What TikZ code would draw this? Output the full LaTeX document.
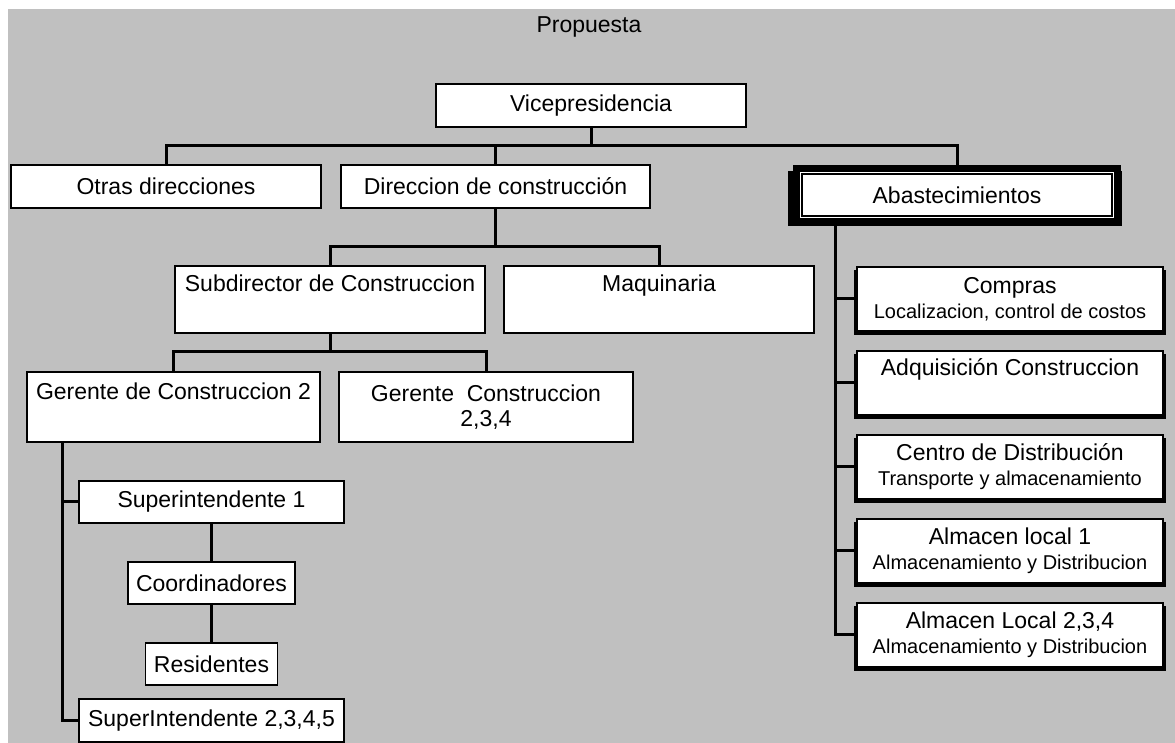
\documentclass[tikz,border=0pt]{standalone}
\usepackage{fontspec}
\setmainfont{Liberation Sans}
\usepackage{xcolor}
\usepackage{tikz}
\usetikzlibrary{positioning,shadows}
\definecolor{panel}{RGB}{192,192,192}
\newcommand{\subline}[1]{{\fontsize{10pt}{12pt}\selectfont #1}}
\tikzstyle{cargo}=[rectangle, draw=black, line width=0.6pt, fill=white, align=center,
        inner sep=0pt, font=\fontsize{11.5pt}{12.5pt}\selectfont]
\tikzstyle{abasto}=[cargo, minimum width=153pt, minimum height=32pt,
        general shadow={fill=black, shadow yshift=-1.8pt, shadow scale=1.018}]
\tikzstyle{marco}=[cargo, line width=3.5pt, minimum width=160.5pt, minimum height=26.5pt,
        general shadow={fill=black, shadow xshift=-1pt, shadow yshift=-1.5pt, shadow scale=1.04},
        path picture={\draw[line width=0.65pt]
          ([shift={(2.75pt,2.75pt)}]path picture bounding box.south west) rectangle
          ([shift={(-2.75pt,-2.75pt)}]path picture bounding box.north east);}]
\tikzstyle{enlace}=[draw=black, line width=1.5pt]

\begin{document}
\begin{tikzpicture}[x=0.5pt, y=-0.5pt, node distance=9.4pt]
        \useasboundingbox (0,0) rectangle (1175,743);
        \fill[panel] (8,9) rectangle (1175,743);
        \node (title) at (589,27) [font=\fontsize{11.5pt}{12.5pt}\selectfont] {Propuesta};

        \node (vice) [cargo, minimum width=155pt, minimum height=21.5pt] at (591,105.5) {Vicepresidencia};
        \node (otras) [cargo, minimum width=155pt, minimum height=21.5pt] at (166,186.5) {Otras direcciones};
        \node (direccion) [cargo, minimum width=154.5pt, minimum height=21.5pt] at (495.5,186.5)
        {Direccion de construcción};
        \node (abast) [marco] at (957,195) {Abastecimientos};

        \node (subdir) [cargo, minimum width=155pt, minimum height=33.5pt] at (330,299.5)
        {Subdirector de Construccion\\\strut};
        \node (maquinaria) [cargo, minimum width=155pt, minimum height=33.5pt] at (659,299.5)
        {Maquinaria\\\strut};
        \node (gerente2) [cargo, minimum width=146.5pt, minimum height=35pt] at (173.5,407)
        {Gerente de Construccion 2\\\strut};
        \node (gerente234) [cargo, minimum width=147pt, minimum height=35pt] at (486,407)
        {Gerente\ \ Construccion\\2,3,4};

        \node (super1) [cargo, minimum width=132.5pt, minimum height=21pt] at (211.5,502) {Superintendente 1};
        \node (coord) [cargo, minimum width=83.5pt, minimum height=21pt] at (211.5,583) {Coordinadores};
        \node (resid) [cargo, minimum width=66pt, minimum height=21pt] at (211.5,664) {Residentes};
        \node (super2) [cargo, minimum width=132.5pt, minimum height=21.5pt] at (211.5,720.5)
        {SuperIntendente 2,3,4,5};

        \node (compras) [abasto] at (1010,299)
        {Compras\\\subline{Localizacion, control de costos}};
        \node (adq) [abasto, below=of compras]
        {Adquisición Construccion\\\strut};
        \node (centro) [abasto, below=of adq]
        {Centro de Distribución\\\subline{Transporte y almacenamiento}};
        \node (alm1) [abasto, below=of centro]
        {Almacen local 1\\\subline{Almacenamiento y Distribucion}};
        \node (alm234) [abasto, below=of alm1]
        {Almacen Local 2,3,4\\\subline{Almacenamiento y Distribucion}};

        \coordinate (topbus) at (591,146);
        \coordinate (dirbus) at (495.5,247);
        \coordinate (subbus) at (330,352);
        \coordinate (gerbus) at (62,442);
        \coordinate (abbus) at (835,225);

        \draw[enlace] (vice.south) -- (topbus);
        \draw[enlace] (otras.north) |- (topbus) -| (abast.north);
        \draw[enlace] (direccion.north) -- (direccion.north |- topbus);
        \draw[enlace] (direccion.south) -- (dirbus);
        \draw[enlace] (subdir.north) |- (dirbus) -| (maquinaria.north);
        \draw[enlace] (subdir.south) -- (subbus);
        \draw[enlace] (gerente2.north) |- (subbus) -| (gerente234.north);
        \foreach \n in {super1,super2}
          \draw[enlace] (gerente2.south -| gerbus) |- (\n.west);
        \draw[enlace] (super1) -- (coord);
        \draw[enlace] (coord) -- (resid);
        \foreach \n in {compras,adq,centro,alm1,alm234}
          \draw[enlace] (abast.south -| abbus) |- (\n.west);
\end{tikzpicture}
\end{document}
